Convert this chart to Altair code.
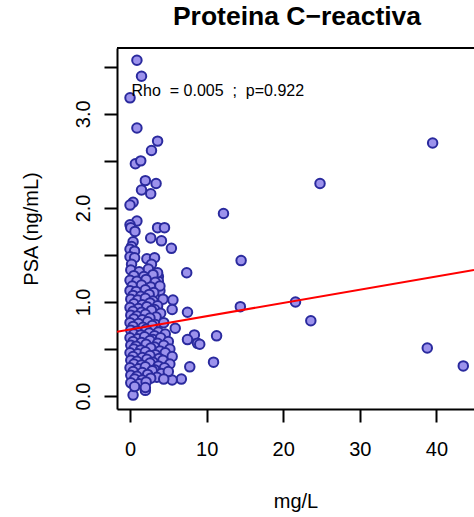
import altair as alt
import pandas as pd

title_text = "Proteina C\u2212reactiva"
x_title = "mg/L"
y_title = "PSA (ng/mL)"
annot_text = "Rho\u00a0\u00a0= 0.005\u00a0\u00a0;\u00a0\u00a0p=0.922"
x_ticks = [0, 10, 20, 30, 40]
y_ticks = [0, 0.5, 1, 1.5, 2, 2.5, 3, 3.5]
x_domain = [-1.7, 44.9]
y_domain = [-0.138, 3.70]
fit_intercept = 0.708
fit_slope = 0.0141
annot_pos = [0.2, 3.19]

# points: scattered ones
crp_sparse = [0.9, 1.5, 0.0, 0.9, 3.6, 2.8, 0.7, 1.4, 2.0, 3.4, 1.5, 2.7, 0.4, 0.0,
              0.9, 0.0, 0.1, 0.65, 3.6, 4.5, 2.7, 4.1, 5.4, 0.4, 0.2, 0.0, 0.6, 0.0,
              0.6, 2.2, 3.2, 0.2, 2.8, 7.4, 3.7, 3.7, 3.9, 5.6, 5.5, 7.5, 5.9, 8.4,
              7.5, 8.8, 7.8, 10.9, 6.7, 5.5, 0.4, 2.0, 12.2, 14.5, 14.4, 21.6, 23.6,
              11.3, 9.1, 24.8, 39.5, 38.8, 43.5]
psa_sparse = [3.57, 3.40, 3.17, 2.85, 2.71, 2.61, 2.47, 2.50, 2.29, 2.26, 2.19, 2.15, 2.06, 2.03,
              1.86, 1.82, 1.79, 1.75, 1.79, 1.79, 1.68, 1.65, 1.57, 1.64, 1.59, 1.56, 1.54, 1.48,
              1.47, 1.46, 1.47, 1.40, 1.40, 1.31, 1.27, 1.22, 1.12, 1.02, 0.92, 0.89, 0.72, 0.65,
              0.60, 0.56, 0.31, 0.36, 0.18, 0.17, 0.01, 0.06, 1.94, 1.44, 0.95, 1.00, 0.80,
              0.64, 0.55, 2.26, 2.69, 0.51, 0.32]

# points of the dense cluster near the origin
crp_dense = [0.1, 1.2, 2.4, 3.6, 0.5, 1.8, 3.0, 0.0, 0.9, 2.1, 3.3, 0.3, 1.5, 2.7, 3.9,
             0.0, 0.8, 2.0, 3.1, 0.4, 1.4, 2.5, 0.1, 1.0, 2.0, 3.0, 4.3, 0.5, 1.6, 2.6, 3.6,
             0.0, 1.1, 2.2, 3.2, 0.4, 1.5, 2.8, 4.0, 0.1, 0.9, 2.0, 3.4, 0.5, 1.6, 2.6,
             0.0, 1.1, 2.3, 3.3, 4.4, 0.4, 1.7, 2.9, 0.1, 0.9, 2.1, 3.7,
             0.5, 1.4, 2.5, 3.2, 4.6, 0.0, 1.0, 1.9, 3.0, 4.0, 0.4, 1.5, 2.6, 3.6, 5.0,
             0.1, 0.8, 2.1, 3.2, 4.4, 0.5, 1.4, 2.7, 3.9, 5.2, 0.0, 1.0, 2.0, 3.3, 4.6,
             0.4, 1.6, 2.6, 3.8, 5.5, 0.1, 0.9, 2.2, 3.0, 4.3, 0.5, 1.5, 2.6, 3.7, 5.2,
             0.0, 1.1, 2.0, 3.2, 4.5, 0.4, 1.6, 2.9, 4.1, 5.0, 0.1, 0.9, 2.3, 3.5,
             0.6, 1.6, 2.7, 4.4, 0.1, 1.2, 2.1, 0.6, 2.0]
psa_dense = [1.34, 1.32, 1.35, 1.31, 1.28, 1.27, 1.29, 1.23, 1.22, 1.24, 1.21, 1.17, 1.18, 1.16, 1.17,
             1.12, 1.11, 1.13, 1.10, 1.07, 1.06, 1.08, 1.03, 1.02, 1.04, 1.01, 1.03, 0.98, 0.97, 0.99, 0.96,
             0.94, 0.93, 0.95, 0.92, 0.90, 0.89, 0.91, 0.88, 0.86, 0.85, 0.87, 0.84, 0.82, 0.81, 0.83,
             0.78, 0.77, 0.79, 0.76, 0.78, 0.74, 0.73, 0.75, 0.70, 0.69, 0.71, 0.68,
             0.66, 0.65, 0.67, 0.64, 0.66, 0.62, 0.61, 0.63, 0.60, 0.62, 0.58, 0.57, 0.59, 0.56, 0.58,
             0.54, 0.53, 0.55, 0.52, 0.54, 0.50, 0.49, 0.51, 0.48, 0.50, 0.46, 0.45, 0.47, 0.44, 0.46,
             0.42, 0.41, 0.43, 0.40, 0.42, 0.38, 0.37, 0.39, 0.36, 0.38, 0.34, 0.33, 0.35, 0.32, 0.34,
             0.30, 0.29, 0.31, 0.28, 0.30, 0.26, 0.25, 0.27, 0.24, 0.26, 0.22, 0.21, 0.23, 0.20,
             0.18, 0.17, 0.19, 0.18, 0.14, 0.13, 0.15, 0.10, 0.09]

FONT = "Liberation Sans"
W, H = 357, 361

pts = pd.DataFrame({"crp": crp_sparse + crp_dense, "psa": psa_sparse + psa_dense})
fit = pd.DataFrame({"crp": x_domain,
                    "psa": [fit_intercept + fit_slope * v for v in x_domain]})
ann = pd.DataFrame({"crp": [annot_pos[0]], "psa": [annot_pos[1]], "t": [annot_text]})

xs = alt.Scale(domain=x_domain, nice=False, zero=False)
ys = alt.Scale(domain=y_domain, nice=False, zero=False)

x_axis = alt.Axis(values=x_ticks, format="d", grid=False, domain=True, domainColor="black",
                  domainWidth=2, ticks=True, tickSize=13, tickWidth=2, tickColor="black",
                  labelFont=FONT, labelFontSize=20, labelColor="black", labelPadding=17,
                  labelBaseline="top", labelFlush=False, labelOverlap=False,
                  titleFont=FONT, titleFontSize=20, titleFontWeight="normal", titleColor="black",
                  titleBaseline="alphabetic", titleAlign="center", titleX=W / 2, titleY=98)
y_axis = alt.Axis(values=y_ticks, grid=False, domain=True, domainColor="black",
                  domainWidth=2, ticks=True, tickSize=13, tickWidth=2, tickColor="black",
                  labelExpr="datum.value % 1 == 0 ? format(datum.value, '.1f') : ''",
                  labelFont=FONT, labelFontSize=20, labelColor="black", labelPadding=15,
                  labelAngle=270, labelAlign="center", labelBaseline="alphabetic",
                  labelFlush=False, labelOverlap=False,
                  titleFont=FONT, titleFontSize=20, titleFontWeight="normal", titleColor="black",
                  titleAngle=270, titleBaseline="alphabetic", titleAlign="center",
                  titleX=-80, titleY=H / 2)

points = alt.Chart(pts).mark_circle(
    fill="#9C92EC", stroke="#2A2A9E", strokeWidth=2, size=90, opacity=1, fillOpacity=1
).encode(
    x=alt.X("crp:Q", scale=xs, axis=x_axis, title=x_title),
    y=alt.Y("psa:Q", scale=ys, axis=y_axis, title=y_title),
)

line = alt.Chart(fit).mark_line(color="#FF0000", strokeWidth=2, clip=True).encode(
    x=alt.X("crp:Q", scale=xs), y=alt.Y("psa:Q", scale=ys))

top_border = alt.Chart(pd.DataFrame({"a": [0]})).mark_rule(color="black", strokeWidth=2).encode(
    x=alt.value(0), x2=alt.value(W), y=alt.value(0))

text = alt.Chart(ann).mark_text(align="left", baseline="alphabetic", font=FONT,
                                fontSize=16, color="black").encode(
    x=alt.X("crp:Q", scale=xs), y=alt.Y("psa:Q", scale=ys), text="t:N")

chart = alt.layer(points, line, text, top_border).properties(
    width=W, height=H,
    title=alt.Title(title_text, font=FONT, fontSize=26.5, fontWeight="bold", color="black",
                    anchor="middle", baseline="alphabetic", offset=-4, dx=1.5),
    padding={"left": 117, "top": 48, "right": 0, "bottom": 108},
    autosize=alt.AutoSizeParams(type="none"),
).configure_view(stroke=None).configure(background="white")

chart.save("out.html", embed_options={"renderer": "svg", "actions": False})
